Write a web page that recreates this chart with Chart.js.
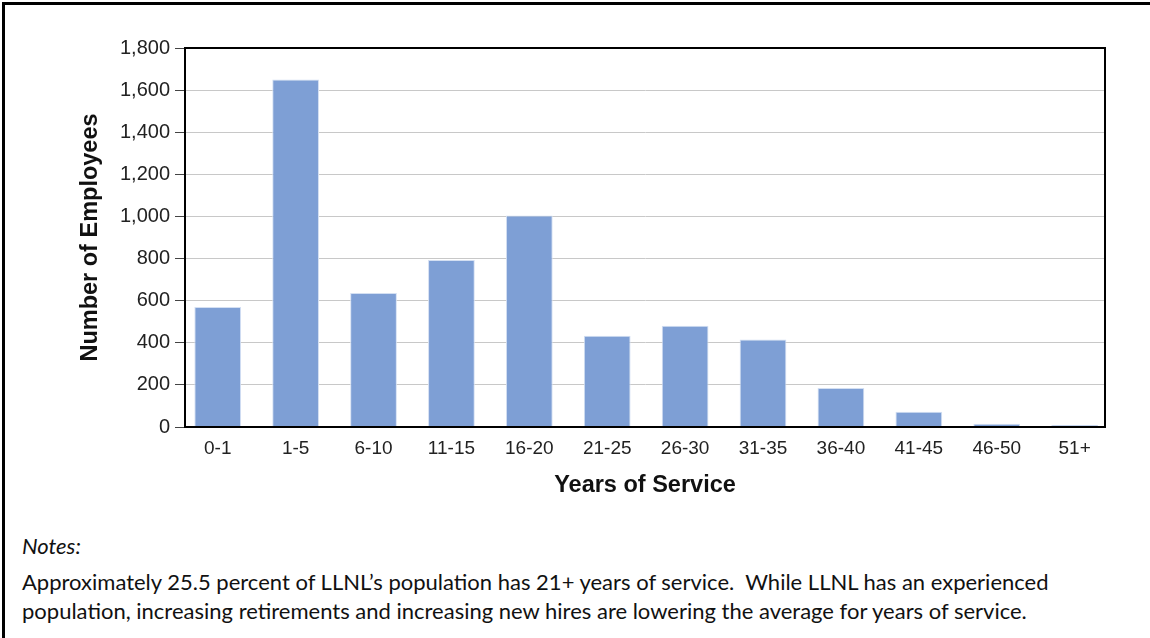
<!DOCTYPE html>
<html>
<head>
<meta charset="utf-8">
<script src="https://cdn.jsdelivr.net/npm/chart.js@4.4.1/dist/chart.umd.min.js"></script>
<style>
  html, body { margin: 0; padding: 0; background: #fff; }
  body { width: 1150px; height: 638px; overflow: hidden; position: relative; }
  #frame {
    position: absolute; left: 2px; top: 2px; right: 0; bottom: 0;
    border-top: 3px solid #000; border-left: 3px solid #000;
  }
  #wrap { position: absolute; left: 0; top: 0; width: 1150px; height: 510px; }
  .notes {
    position: absolute; left: 22px;
    font-family: Lato, "Open Sans", sans-serif;
    font-size: 22px; color: #111; white-space: nowrap;
  }
  #notesHead { top: 532px; font-style: italic; }
  #notesText { top: 567px; line-height: 29px; }
</style>
</head>
<body>
<div id="frame"></div>
<div id="wrap"><canvas id="myChart" width="1150" height="510"></canvas></div>
<div class="notes" id="notesHead">Notes:</div>
<div class="notes" id="notesText">Approximately 25.5 percent of LLNL’s population has 21+ years of service.&nbsp; While LLNL has an experienced<br>population, increasing retirements and increasing new hires are lowering the average for years of service.</div>

<script>
const yearGroups = ['0-1', '1-5', '6-10', '11-15', '16-20', '21-25', '26-30', '31-35', '36-40', '41-45', '46-50', '51+'];
const employees = [570, 1650, 636, 793, 1005, 433, 481, 415, 185, 73, 15, 10];
const yTicks = [0, 200, 400, 600, 800, 1000, 1200, 1400, 1600, 1800];

// bars sit on a numeric x axis (0..11) so the side gaps can be narrower than a full half band
const points = employees.map((v, i) => ({ x: i, y: v }));

// box around the plot area
const plotFrame = {
    id: 'plotFrame',
    afterDraw(chart) {
        const a = chart.chartArea;
        const c = chart.ctx;
        c.save();
        c.strokeStyle = '#000';
        c.lineWidth = 2;
        c.strokeRect(a.left, a.top, a.right - a.left, a.bottom - a.top);
        c.restore();
    }
};

const ctx = document.getElementById('myChart');

new Chart(ctx, {
    type: 'bar',
    data: {
        datasets: [{
            label: 'Number of Employees',
            data: points,
            backgroundColor: '#7e9fd5',
            borderColor: '#d3dff2',
            borderWidth: 1,
            barPercentage: 0.6,
            categoryPercentage: 1
        }]
    },
    options: {
        responsive: false,
        animation: false,
        layout: { padding: { left: 76, top: 48, right: 45, bottom: 10 } },
        plugins: {
            legend: { display: false },
            tooltip: { enabled: false }
        },
        scales: {
            x: {
                type: 'linear',
                offset: false,
                min: -0.42,
                max: 11.39,
                afterBuildTicks(scale) {
                    scale.ticks = yearGroups.map((g, i) => ({ value: i }));
                },
                grid: { display: false, drawTicks: false },
                border: { color: '#000', width: 2 },
                ticks: {
                    color: '#222',
                    padding: 10,
                    font: { family: 'Liberation Sans', size: 19 },
                    callback: v => yearGroups[v]
                },
                title: {
                    display: true,
                    text: 'Years of Service',
                    color: '#111',
                    padding: { top: 2, bottom: 0 },
                    font: { family: 'Liberation Sans', size: 23.5, weight: 'bold' }
                }
            },
            y: {
                min: 0,
                max: 1800,
                afterBuildTicks(scale) {
                    scale.ticks = yTicks.map(v => ({ value: v }));
                },
                afterFit(scale) {
                    scale.width = 109;
                },
                grid: {
                    color: '#c8c8c8',
                    tickColor: '#444',
                    tickLength: 10,
                    lineWidth: 1
                },
                border: { color: '#000', width: 2 },
                ticks: {
                    color: '#222',
                    padding: 5,
                    font: { family: 'Liberation Sans', size: 20 },
                    callback: v => v.toLocaleString('en-US')
                },
                title: {
                    display: true,
                    text: 'Number of Employees',
                    color: '#111',
                    padding: { top: 0, bottom: 4 },
                    font: { family: 'Liberation Sans', size: 23.5, weight: 'bold' }
                }
            }
        }
    },
    plugins: [plotFrame]
});
</script>
</body>
</html>
